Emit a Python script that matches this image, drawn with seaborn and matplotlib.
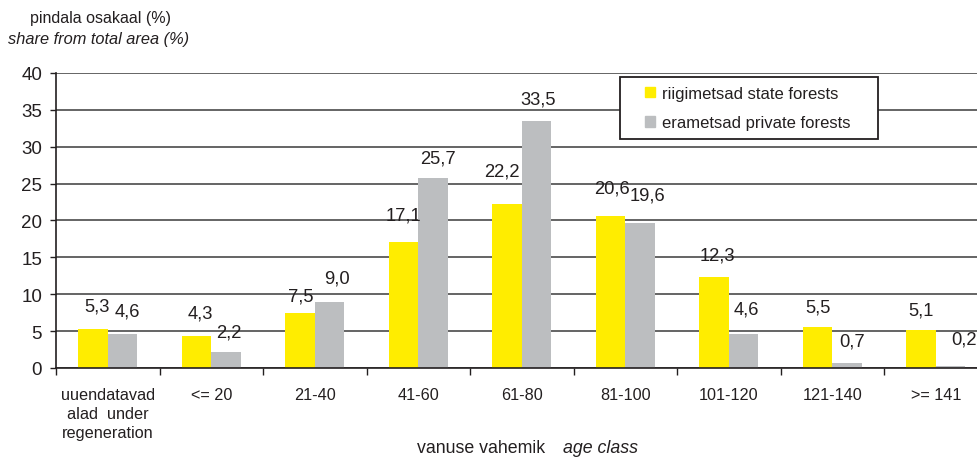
import numpy as np
import pandas as pd
import seaborn as sns
import matplotlib.pyplot as plt
from matplotlib.patches import Rectangle

age_classes = ['uuendatavad\nalad  under\nregeneration', '<= 20', '21-40', '41-60',
               '61-80', '81-100', '101-120', '121-140', '>= 141']
state_forests = [5.3, 4.3, 7.5, 17.1, 22.2, 20.6, 12.3, 5.5, 5.1]
private_forests = [4.6, 2.2, 9.0, 25.7, 33.5, 19.6, 4.6, 0.7, 0.2]
series_names = ['riigimetsad state forests', 'erametsad private forests']
colors = ['#FFED00', '#BCBEC0']

# value labels were hand placed in the original, offsets in pixels from the bar top
state_dy = [23, 23, 17, 27, 33, 28, 22, 20, 20]
private_dy = [23, 20, 24, 20, 22, 28, 25, 22, 27]
state_dx = [4, 4, 1, 0, -5, 1, 3, 0, 0]
private_dx = [5, 3, 7, 5, 2, 7, 3, 5, 13]

df = pd.DataFrame({
    'age': age_classes * 2,
    'share': state_forests + private_forests,
    'forest': [series_names[0]] * len(age_classes) + [series_names[1]] * len(age_classes),
})

sns.set_style('white')
plt.rcParams['font.family'] = ['Liberation Sans', 'DejaVu Sans']

fig = plt.figure(figsize=(9.78, 4.6), dpi=100)
ax = fig.add_axes([0.0573, 0.198, 0.9525, 0.6413])

sns.barplot(data=df, x='age', y='share', hue='forest', order=age_classes,
            hue_order=series_names, palette=colors, width=0.57, gap=0,
            saturation=1, errorbar=None, legend=False, linewidth=0, ax=ax)

for cont, dys, dxs in zip(ax.containers, [state_dy, private_dy], [state_dx, private_dx]):
    for bar, dy, dx in zip(cont, dys, dxs):
        h = bar.get_height()
        ax.annotate(f'{h:.1f}'.replace('.', ','),
                    (bar.get_x() + bar.get_width() / 2, h),
                    xytext=(dx, dy), textcoords='offset pixels',
                    ha='center', va='center', fontsize=13.2, color='#231f20')

ax.set_ylim(0, 40)
ax.set_yticks(np.arange(0, 41, 5))
ax.set_xlim(-0.5, 8.5)
ax.set_xticks(np.arange(-0.5, 9, 1), minor=True)
ax.yaxis.grid(True, color='#3a3a3a', linewidth=1.1)
ax.set_axisbelow(True)
ax.set_xlabel('')
ax.set_ylabel('')

for s in ['top', 'right']:
    ax.spines[s].set_visible(False)
for s in ['left', 'bottom']:
    ax.spines[s].set_color('#231f20')
    ax.spines[s].set_linewidth(1.2)

ax.tick_params(axis='y', length=4.5, width=1, color='#231f20', pad=5.5,
               labelsize=13.5, labelcolor='#231f20', left=True)
ax.tick_params(axis='x', which='major', length=0, pad=14, labelsize=11.7,
               labelcolor='#231f20')
ax.tick_params(axis='x', which='minor', length=5, width=1, color='#231f20',
               direction='out', bottom=True)
for lab in ax.get_xticklabels():
    lab.set_linespacing(1.33)

# legend box
fig.patches.append(Rectangle((620 / 978, 1 - 140 / 460), 258 / 978, 62 / 460,
                             transform=fig.transFigure, facecolor='white',
                             edgecolor='#231f20', linewidth=1.3, zorder=4))
handles = [plt.Rectangle((0, 0), 1, 1, color=c) for c in colors]
fig.legend(handles, series_names, loc='center left',
           bbox_to_anchor=(645 / 978, 1 - 109 / 460), frameon=False,
           borderpad=0, borderaxespad=0, handlelength=0.6, handleheight=0.6,
           handletextpad=0.45, labelspacing=0.85, fontsize=12,
           labelcolor='#231f20')

fig.text(101 / 978, 1 - 18 / 460, 'pindala osakaal (%)', ha='center', va='center',
         fontsize=11.5, color='#231f20')
fig.text(99 / 978, 1 - 40 / 460, 'share from total area (%)', ha='center',
         va='center', fontsize=11.8, style='italic', color='#231f20')
fig.text(545 / 978, 1 - 449 / 460, 'vanuse vahemik', ha='right', va='center',
         fontsize=12.8, color='#231f20')
fig.text(563 / 978, 1 - 449 / 460, 'age class', ha='left', va='center',
         fontsize=12.8, style='italic', color='#231f20')

fig.savefig('out.png', dpi=100)
